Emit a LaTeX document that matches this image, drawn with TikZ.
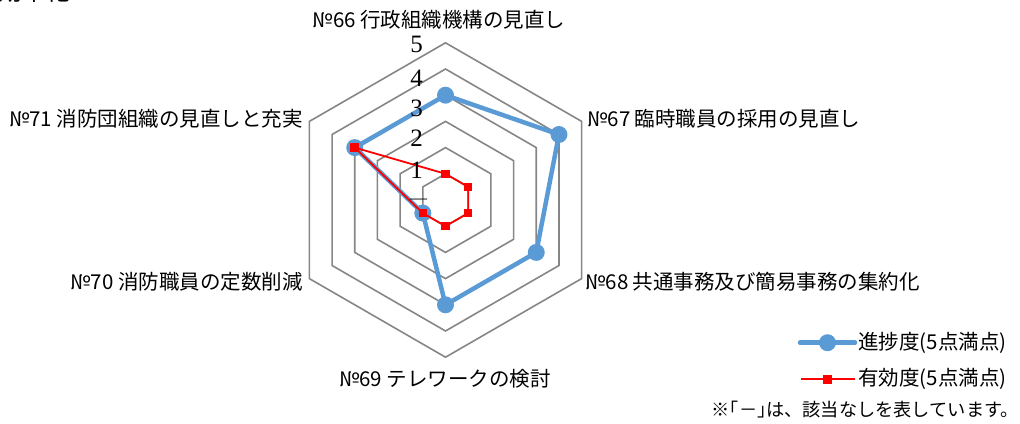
\documentclass[tikz,border=0pt]{standalone}
\usepackage{fontspec}
\newfontfamily\cjk{Noto Sans CJK JP}
\newfontfamily\tickfont{Liberation Serif}
\definecolor{ringgray}{RGB}{134,134,134}
\definecolor{serblue}{RGB}{91,155,213}
\definecolor{serred}{RGB}{255,0,0}
\begin{document}
\begin{tikzpicture}[x=1pt,y=-1pt,
  ring/.style={draw=ringgray,line width=1.6pt,line join=miter},
  blueline/.style={draw=serblue,line width=4.5pt,line join=round},
  redline/.style={draw=serred,line width=1.8pt,line join=round},
  bluemark/.style={circle,fill=serblue,inner sep=0pt,minimum size=17pt},
  redmark/.style={rectangle,fill=serred,inner sep=0pt,minimum size=8.5pt},
  cat/.style={font=\cjk\fontsize{20.5}{24}\selectfont,inner sep=0pt},
  tick/.style={font=\tickfont\fontsize{25}{28}\selectfont,inner sep=0pt},
  leg/.style={font=\cjk\fontsize{20.5}{24}\selectfont,inner sep=0pt,anchor=west},
]
\useasboundingbox (0,0) rectangle (1020,423);
\node[font=\cjk\fontsize{24}{26}\selectfont,anchor=base west,inner sep=0pt] (head) at (-2,1) {効率化};

\begin{scope}[shift={(445.5,200)}]
  \foreach \n in {1,...,6}{
    \draw[ring] (-90:\n*26.2) -- (-30:\n*26.2) -- (30:\n*26.2) -- (90:\n*26.2) -- (150:\n*26.2) -- (210:\n*26.2) -- cycle;
  }
  \foreach \k/\n in {0/4,1/5,2/4,3/4,4/1,5/4}
    \coordinate (b\k) at ({60*\k-90}:{\n*26.2});
  \foreach \k/\n in {0/1,1/1,2/1,3/1,4/1,5/4}
    \coordinate (r\k) at ({60*\k-90}:{\n*26.2});
  \draw[blueline] (b0) -- (b1) -- (b2) -- (b3) -- (b4) -- (b5) -- cycle;
  \foreach \k in {0,...,5} \node[bluemark] (bm\k) at (b\k) {};
  \draw[redline] (r0) -- (r1) -- (r2) -- (r3) -- (r4) -- (r5) -- cycle;
  \foreach \k in {0,...,5} \node[redmark] (rm\k) at (r\k) {};
\end{scope}

\node[tick] (t5) at (416.7,44) {5};
\node[tick] (t4) at (416.7,78) {4};
\node[tick] (t3) at (416.7,108.5) {3};
\node[tick] (t2) at (416.7,138) {2};
\node[tick] (t1) at (416.7,170) {1};
\node[font=\tickfont\fontsize{17}{17}\selectfont,inner sep=0pt] (t0) at (418.5,201.7) {—};

\node[cat] (l66) at (439,20) {№66 行政組織機構の見直し};
\node[cat,anchor=west] (l67) at (587,119) {№67 臨時職員の採用の見直し};
\node[cat,anchor=west] (l68) at (585,282) {№68 共通事務及び簡易事務の集約化};
\node[cat] (l69) at (445,379) {№69 テレワークの検討};
\node[cat,anchor=east] (l70) at (303,282) {№70 消防職員の定数削減};
\node[cat,anchor=east] (l71) at (303,119) {№71 消防団組織の見直しと充実};

\coordinate (lb1) at (800,342.7);
\coordinate (lb2) at (855,342.7);
\draw[blueline,line cap=round] (lb1) -- (lb2);
\node[bluemark] (lbm) at (827.5,342.7) {};
\node[leg] (lbt) at (858,342.7) {進捗度(5点満点)};
\coordinate (lr1) at (801,379.3);
\coordinate (lr2) at (855,379.3);
\draw[redline] (lr1) -- (lr2);
\node[redmark] (lrm) at (827.5,379.3) {};
\node[leg] (lrt) at (858,379.3) {有効度(5点満点)};
\node[font=\cjk\fontsize{18.2}{20}\selectfont,anchor=east,inner sep=0pt] (note) at (1019,410) {※｢－｣は、該当なしを表しています。};
\end{tikzpicture}
\end{document}
